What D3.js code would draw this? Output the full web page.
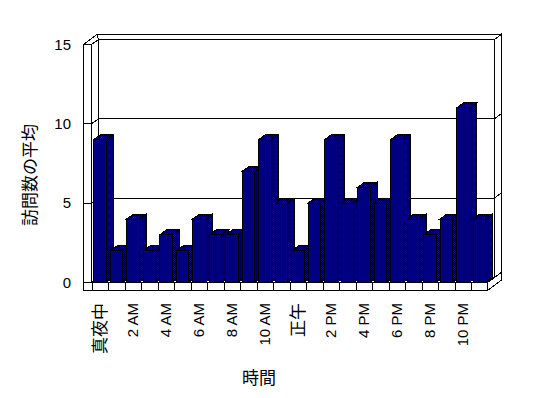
<!DOCTYPE html>
<html>
<head>
<meta charset="utf-8">
<script src="https://cdn.jsdelivr.net/npm/d3@7"></script>
<style>
  body { margin: 0; background: #fff; }
  svg { display: block; }
</style>
</head>
<body>
<div id="chart-area"></div>
<script>
// one bar per hour, 0..23
const hours = d3.range(24);
const visits = [9, 2, 4, 2, 3, 2, 4, 3, 3, 7, 9, 5, 2, 5, 9, 5, 6, 5, 9, 4, 3, 4, 11, 4];
// label under every second hour
const hourLabels = ["真夜中", "2 AM", "4 AM", "6 AM", "8 AM", "10 AM", "正午", "2 PM", "4 PM", "6 PM", "8 PM", "10 PM"];
const yTicks = [0, 5, 10, 15];

const WIDTH = 548, HEIGHT = 398;
const WALL_LEFT = 83.5;      // outer left of the side wall
const PLOT_LEFT = 91.5;      // inner face of the side wall
const PLOT_RIGHT = 487.5;
const FLOOR_BOTTOM = 290.5;
// depth offsets: floor depth, then back wall thickness
const DX = 7, DY = -5;
const BX = 6.5, BY = -5;

const CJK = /[\u3000-\u9fff]/;
const LATIN_FONT = '"Liberation Sans", Arial, sans-serif';
const CJK_FONT = '"Noto Sans CJK JP", sans-serif';

const svg = d3.select('#chart-area')
  .append('svg')
  .attr('width', WIDTH)
  .attr('height', HEIGHT);

const pat = svg.append('defs').append('pattern')
  .attr('id', 'dither')
  .attr('patternUnits', 'userSpaceOnUse')
  .attr('width', 2).attr('height', 2);
pat.append('rect').attr('width', 2).attr('height', 2).attr('fill', '#000');
pat.append('rect').attr('width', 1).attr('height', 1).attr('fill', '#000080');
pat.append('rect').attr('x', 1).attr('y', 1).attr('width', 1).attr('height', 1).attr('fill', '#000080');

const xScale = d3.scaleBand().domain(hours).range([PLOT_LEFT, PLOT_RIGHT]);
const yScale = d3.scaleLinear().domain([0, 15]).range([282.5, 44.5]);

const y0 = yScale(0), yTop = yScale(15);
const poly = pts => pts.map(p => p.join(',')).join(' ');

const g = svg.append('g')
  .attr('stroke', '#000')
  .attr('stroke-width', 1)
  .attr('fill', '#fff')
  .attr('shape-rendering', 'crispEdges');

// back wall: inner face, top and right side
g.append('rect')
  .attr('x', PLOT_LEFT + DX).attr('y', yTop + DY)
  .attr('width', PLOT_RIGHT - PLOT_LEFT).attr('height', y0 - yTop);
g.append('polygon').attr('points', poly([
  [WALL_LEFT + DX + BX, yTop + DY + BY], [PLOT_RIGHT + DX + BX, yTop + DY + BY],
  [PLOT_RIGHT + DX, yTop + DY], [PLOT_LEFT + DX, yTop + DY]
]));
g.append('polygon').attr('points', poly([
  [PLOT_RIGHT + DX, yTop + DY], [PLOT_RIGHT + DX + BX, yTop + DY + BY],
  [PLOT_RIGHT + DX + BX, y0 + DY + BY], [PLOT_RIGHT + DX, y0 + DY]
]));

// left wall: inner face, top, front
g.append('polygon').attr('points', poly([
  [PLOT_LEFT, yTop], [PLOT_LEFT + DX, yTop + DY], [PLOT_LEFT + DX, y0 + DY], [PLOT_LEFT, y0]
]));
g.append('polygon').attr('points', poly([
  [WALL_LEFT, yTop], [WALL_LEFT + DX + BX, yTop + DY + BY], [PLOT_LEFT + DX, yTop + DY], [PLOT_LEFT, yTop]
]));
g.append('rect')
  .attr('x', WALL_LEFT).attr('y', yTop)
  .attr('width', PLOT_LEFT - WALL_LEFT).attr('height', FLOOR_BOTTOM - yTop);

// gridlines across walls
const grid = yTicks.filter(v => v > 0 && v < 15);
g.selectAll('polyline.grid')
  .data(grid)
  .enter()
  .append('polyline')
  .attr('class', 'grid')
  .attr('fill', 'none')
  .attr('points', v => poly([
    [WALL_LEFT, yScale(v)], [PLOT_LEFT, yScale(v)], [PLOT_LEFT + DX, yScale(v) + DY],
    [PLOT_RIGHT + DX, yScale(v) + DY], [PLOT_RIGHT + DX + BX, yScale(v) + DY + BY]
  ]));

// floor: top, right side, front with category cells
g.append('polygon').attr('points', poly([
  [PLOT_LEFT, y0], [PLOT_RIGHT, y0], [PLOT_RIGHT + DX, y0 + DY], [PLOT_LEFT + DX, y0 + DY]
]));
g.append('polygon').attr('points', poly([
  [PLOT_RIGHT, y0], [PLOT_RIGHT, FLOOR_BOTTOM],
  [PLOT_RIGHT + DX + BX, FLOOR_BOTTOM + DY + BY], [PLOT_RIGHT + DX + BX, y0 + DY + BY],
  [PLOT_RIGHT + DX, y0 + DY]
]));
g.append('rect')
  .attr('x', WALL_LEFT).attr('y', y0)
  .attr('width', PLOT_RIGHT - WALL_LEFT).attr('height', FLOOR_BOTTOM - y0);
g.selectAll('line.cell')
  .data(hours)
  .enter()
  .append('line')
  .attr('class', 'cell')
  .attr('x1', d => Math.round(xScale(d)) + 0.5).attr('x2', d => Math.round(xScale(d)) + 0.5)
  .attr('y1', y0).attr('y2', FLOOR_BOTTOM);

// bars, left to right so each front covers the side of the previous one
const barW = xScale.bandwidth() * 0.76;
const bars = g.selectAll('g.bar')
  .data(hours)
  .enter()
  .append('g')
  .attr('class', 'bar');

bars.append('polygon')
  .attr('fill', 'url(#dither)')
  .attr('points', d => {
    const x1 = xScale(d) + 2 + barW, yt = yScale(visits[d]);
    return poly([[x1, yt], [x1 + DX, yt + DY], [x1 + DX, y0 + DY], [x1, y0]]);
  });
bars.append('polygon')
  .attr('fill', 'url(#dither)')
  .attr('points', d => {
    const x0 = xScale(d) + 2, yt = yScale(visits[d]);
    return poly([[x0, yt], [x0 + DX, yt + DY], [x0 + barW + DX, yt + DY], [x0 + barW, yt]]);
  });
bars.append('rect')
  .attr('fill', '#000080')
  .attr('x', d => xScale(d) + 2)
  .attr('y', d => yScale(visits[d]))
  .attr('width', barW)
  .attr('height', d => y0 - yScale(visits[d]));

// y axis labels
const yAxis = svg.append('g')
  .attr('transform', `translate(${WALL_LEFT}, 0)`)
  .call(d3.axisLeft(yScale).tickValues(yTicks).tickSize(0).tickPadding(12.5));
yAxis.select('.domain').remove();
yAxis.selectAll('text')
  .style('font-size', '15px')
  .style('font-family', LATIN_FONT);

// x axis labels, rotated
const xAxis = svg.append('g')
  .attr('transform', `translate(0, ${FLOOR_BOTTOM})`)
  .call(d3.axisBottom(xScale)
    .tickValues(hours.filter(h => h % 2 === 0))
    .tickFormat(h => hourLabels[h / 2])
    .tickSize(0));
xAxis.select('.domain').remove();
xAxis.selectAll('text')
  .attr('transform', 'rotate(-90)')
  .attr('text-anchor', 'end')
  .attr('x', -12.5)
  .attr('y', 0)
  .attr('dy', '0.35em')
  .style('font-family', d => CJK.test(hourLabels[d / 2]) ? CJK_FONT : LATIN_FONT)
  .style('font-size', d => CJK.test(hourLabels[d / 2]) ? '17px' : '15px');

// axis titles
svg.append('text')
  .attr('x', -175)
  .attr('y', 28)
  .attr('transform', 'rotate(-90)')
  .attr('text-anchor', 'middle')
  .attr('dominant-baseline', 'central')
  .style('font-size', '17px')
  .style('font-family', CJK_FONT)
  .text('訪問数の平均');

svg.append('text')
  .attr('x', 259)
  .attr('y', 376)
  .attr('text-anchor', 'middle')
  .attr('dominant-baseline', 'central')
  .style('font-size', '17px')
  .style('font-family', CJK_FONT)
  .text('時間');
</script>
</body>
</html>
